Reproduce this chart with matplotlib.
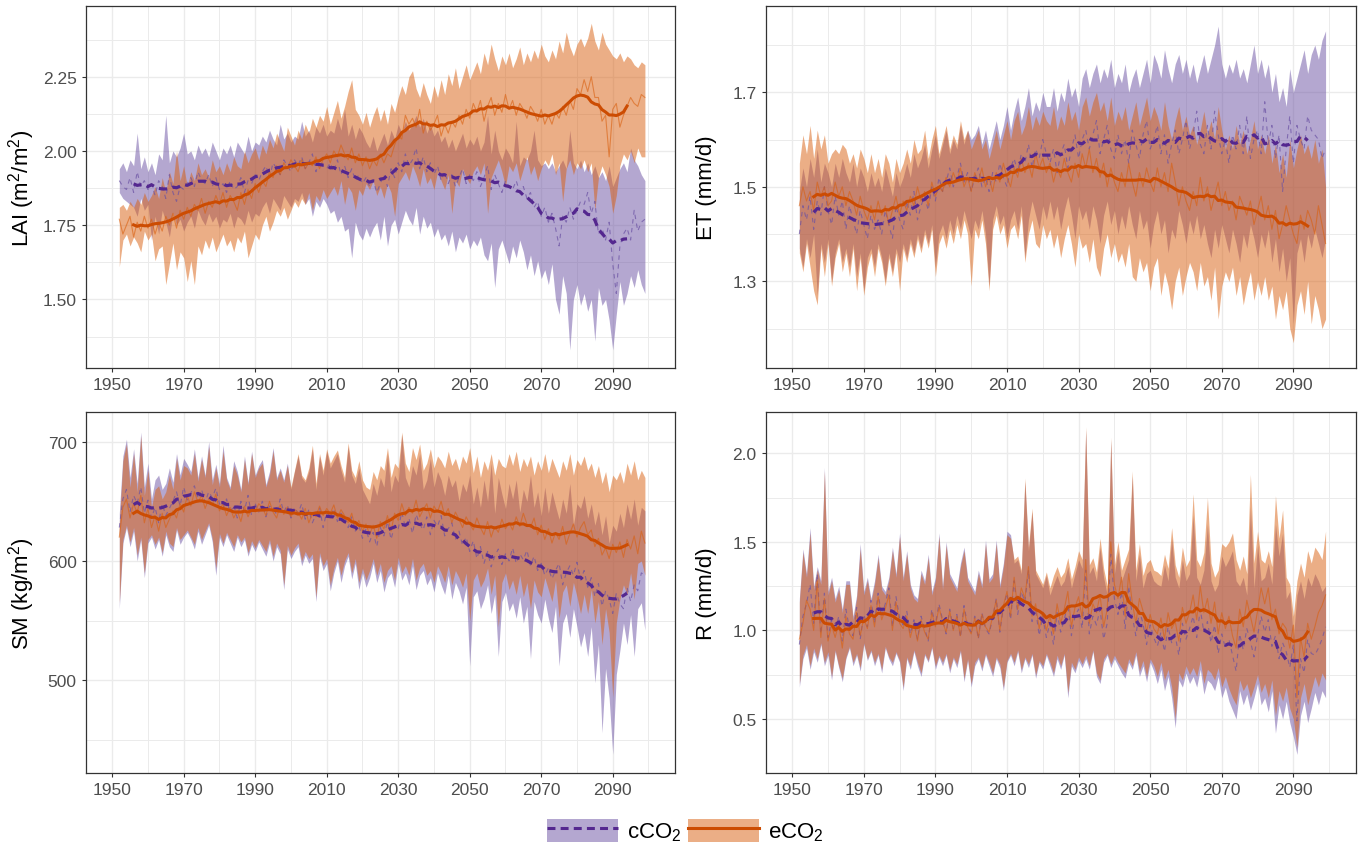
import numpy as np
import matplotlib
matplotlib.use('Agg')
import matplotlib.pyplot as plt
from matplotlib.patches import Patch
from matplotlib.lines import Line2D
from matplotlib.ticker import MultipleLocator

plt.rcParams['font.family'] = ['Liberation Sans', 'DejaVu Sans']
plt.rcParams['mathtext.fontset'] = 'custom'
plt.rcParams['mathtext.rm'] = 'Liberation Sans'
plt.rcParams['mathtext.it'] = 'Liberation Sans:italic'
plt.rcParams['mathtext.bf'] = 'Liberation Sans:bold'

years = np.arange(1952, 2100)

# ---- LAI (x100) ----
lai_c_mid = [190, 188, 187, 191, 186, 193, 188, 190, 187, 189,
             185, 190, 188, 184, 192, 186, 183, 188, 187, 189,
             191, 188, 193, 190, 189, 192, 188, 191, 187, 189,
             186, 190, 187, 188, 191, 186, 190, 189, 192, 190,
             193, 195, 191, 196, 194, 192, 197, 195, 193, 197,
             195, 198, 194, 196, 199, 193, 197, 195, 194, 196,
             193, 197, 192, 195, 191, 194, 190, 192, 189, 191,
             188, 190, 186, 189, 192, 188, 194, 191, 196, 193,
             199, 195, 197, 201, 194, 198, 193, 196, 192, 195,
             190, 193, 189, 192, 188, 191, 194, 189, 192, 190,
             193, 188, 191, 195, 187, 192, 189, 186, 190, 188,
             187, 190, 186, 188, 184, 186, 181, 183, 178, 181,
             176, 179, 174, 168, 178, 176, 181, 177, 180, 183,
             182, 186, 179, 183, 172, 174, 170, 176, 162, 152,
             168, 172, 174, 170, 180, 173, 176, 177]
lai_c_hi = [194, 196, 193, 197, 195, 206, 194, 198, 193, 196,
            192, 199, 197, 212, 196, 200, 198, 201, 206, 199,
            200, 197, 202, 199, 201, 198, 203, 200, 197, 201,
            199, 202, 198, 203, 201, 199, 205, 200, 203, 202,
            205, 203, 207, 204, 202, 209, 204, 206, 203, 205,
            204, 210, 205, 207, 203, 208, 206, 209, 205, 207,
            206, 211, 207, 214, 205, 209, 204, 208, 206, 203,
            201, 205, 200, 203, 206, 202, 207, 204, 209, 206,
            210, 207, 209, 212, 208, 211, 206, 209, 205, 207,
            203, 205, 201, 204, 200, 203, 206, 201, 204, 202,
            205, 200, 203, 212, 199, 207, 200, 197, 201, 199,
            196, 210, 195, 198, 197, 200, 207, 197, 195, 196,
            194, 196, 193, 195, 197, 194, 207, 196, 194, 197,
            193, 196, 192, 195, 191, 193, 190, 195, 188, 191,
            194, 196, 193, 201, 197, 195, 192, 190]
lai_c_lo = [186, 184, 183, 182, 181, 178, 184, 180, 182, 170,
            178, 172, 180, 176, 171, 179, 175, 177, 173, 176,
            178, 174, 180, 177, 175, 179, 176, 178, 174, 177,
            176, 179, 174, 178, 177, 175, 180, 176, 179, 178,
            181, 183, 179, 184, 182, 180, 185, 183, 181, 184,
            183, 186, 182, 184, 178, 183, 181, 184, 182, 179,
            180, 176, 178, 173, 174, 164, 176, 172, 170, 174,
            171, 174, 176, 170, 178, 168, 175, 177, 172, 176,
            180, 177, 175, 181, 172, 178, 174, 176, 171, 174,
            170, 172, 168, 173, 166, 171, 169, 172, 167, 170,
            168, 171, 165, 163, 169, 154, 167, 170, 166, 162,
            168, 164, 170, 166, 160, 165, 158, 163, 157, 160,
            155, 162, 150, 145, 158, 152, 133, 150, 155, 148,
            152, 146, 150, 136, 154, 148, 150, 143, 133, 145,
            156, 148, 152, 158, 154, 160, 155, 152]
lai_e_mid = [177, 172, 175, 178, 171, 176, 173, 178, 174, 177,
             172, 176, 173, 178, 175, 179, 174, 180, 177, 181,
             178, 182, 180, 184, 179, 183, 181, 185, 182, 186,
             181, 185, 183, 180, 186, 182, 187, 184, 189, 186,
             190, 188, 193, 191, 195, 192, 196, 194, 197, 195,
             193, 197, 194, 196, 195, 198, 194, 197, 199, 196,
             200, 198, 202, 199, 197, 201, 196, 199, 195, 198,
             194, 197, 195, 199, 196, 199, 198, 202, 205, 204,
             212, 209, 211, 208, 214, 206, 210, 207, 209, 212,
             205, 209, 206, 210, 208, 212, 209, 214, 211, 216,
             213, 217, 210, 215, 218, 212, 216, 213, 219, 214,
             217, 212, 216, 214, 211, 215, 213, 210, 214, 209,
             212, 209, 213, 211, 215, 212, 217, 214, 221, 219,
             224, 220, 225, 218, 218, 210, 212, 198, 214, 216,
             208, 212, 215, 218, 216, 215, 219, 218]
lai_e_hi = [181, 182, 180, 183, 181, 184, 182, 186, 183, 185,
            188, 184, 191, 186, 193, 189, 200, 190, 195, 188,
            193, 190, 196, 192, 194, 191, 197, 193, 195, 192,
            196, 193, 198, 195, 194, 200, 196, 199, 201, 197,
            202, 199, 204, 201, 206, 203, 200, 208, 205, 202,
            207, 204, 209, 206, 211, 208, 212, 210, 215, 209,
            213, 217, 211, 215, 220, 224, 214, 212, 209, 213,
            208, 212, 215, 210, 214, 209, 216, 213, 218, 222,
            219, 225, 227, 221, 218, 223, 219, 216, 222, 218,
            224, 219, 226, 222, 228, 221, 225, 229, 224, 227,
            230, 226, 233, 229, 236, 231, 227, 232, 229, 233,
            228, 231, 235, 229, 233, 230, 234, 231, 236, 232,
            230, 234, 231, 237, 233, 240, 235, 232, 236, 238,
            235, 238, 243, 237, 234, 240, 236, 234, 232, 231,
            233, 230, 232, 231, 229, 228, 230, 229]
lai_e_lo = [161, 170, 172, 168, 171, 169, 166, 173, 170, 172,
            163, 167, 168, 155, 162, 169, 160, 166, 164, 156,
            163, 155, 168, 165, 170, 167, 171, 166, 169, 172,
            168, 170, 166, 171, 169, 173, 164, 168, 172, 170,
            175, 178, 173, 176, 180, 178, 181, 177, 180, 183,
            181, 184, 182, 186, 180, 185, 183, 187, 184, 186,
            188, 185, 190, 182, 188, 186, 180, 187, 185, 189,
            187, 190, 185, 188, 184, 189, 186, 178, 189, 191,
            193, 190, 195, 192, 188, 194, 189, 191, 187, 193,
            190, 187, 192, 179, 190, 188, 194, 191, 189, 193,
            195, 192, 196, 179, 191, 194, 197, 193, 188, 195,
            193, 196, 190, 194, 198, 192, 195, 190, 194, 197,
            195, 199, 192, 196, 183, 194, 197, 192, 196, 194,
            197, 193, 196, 180, 191, 195, 192, 188, 179, 185,
            195, 199, 197, 200, 196, 201, 198, 198]

# ---- ET (x100) ----
et_c_mid = [140, 146, 143, 148, 141, 147, 144, 150, 145, 142,
            148, 144, 147, 141, 146, 143, 140, 145, 142, 139,
            144, 141, 143, 140, 145, 142, 139, 146, 143, 141,
            147, 144, 149, 143, 146, 148, 145, 150, 147, 152,
            149, 151, 154, 150, 152, 155, 151, 153, 149, 152,
            154, 150, 152, 149, 153, 151, 155, 152, 150, 154,
            156, 153, 157, 155, 159, 154, 158, 156, 160, 157,
            155, 158, 153, 157, 159, 154, 158, 161, 156, 160,
            162, 158, 161, 164, 157, 160, 163, 158, 156, 161,
            157, 160, 155, 162, 159, 156, 161, 164, 158, 160,
            163, 157, 161, 155, 159, 162, 157, 160, 164, 158,
            161, 166, 159, 157, 163, 158, 166, 161, 157, 160,
            155, 161, 158, 163, 157, 165, 156, 160, 162, 157,
            168, 159, 163, 156, 161, 149, 158, 165, 155, 163,
            160, 158, 165, 162, 161, 160, 156, 158]
et_c_hi = [149, 154, 150, 156, 152, 158, 151, 155, 153, 150,
           155, 152, 156, 153, 151, 155, 150, 154, 152, 149,
           153, 150, 152, 149, 154, 151, 148, 153, 150, 152,
           155, 152, 157, 154, 156, 159, 154, 158, 161, 156,
           159, 162, 157, 160, 158, 163, 159, 162, 160, 161,
           163, 159, 162, 158, 161, 164, 160, 163, 167, 162,
           166, 169, 164, 167, 171, 165, 168, 166, 170, 167,
           167, 171, 166, 170, 168, 173, 169, 171, 167, 173,
           175, 171, 174, 176, 172, 175, 173, 177, 171, 174,
           172, 176, 170, 173, 175, 171, 174, 177, 172, 178,
           176, 173, 179, 175, 172, 176, 178, 174, 177, 173,
           176, 172, 175, 178, 174, 177, 180, 184, 176, 173,
           176, 174, 177, 173, 175, 172, 176, 180, 174, 177,
           173, 176, 170, 174, 168, 171, 167, 175, 170, 173,
           176, 179, 174, 178, 180, 177, 181, 183]
et_c_lo = [137, 133, 139, 135, 140, 127, 138, 134, 139, 130,
           136, 139, 134, 137, 133, 138, 131, 136, 128, 135,
           137, 133, 138, 135, 130, 136, 132, 137, 134, 138,
           135, 139, 136, 140, 137, 141, 138, 142, 133, 140,
           142, 139, 143, 140, 144, 141, 145, 142, 139, 143,
           141, 145, 140, 129, 143, 146, 142, 144, 139, 143,
           145, 141, 146, 135, 143, 147, 144, 141, 146, 143,
           147, 143, 146, 141, 145, 148, 144, 139, 146, 143,
           145, 141, 146, 143, 138, 144, 147, 142, 145, 140,
           144, 141, 146, 142, 139, 145, 141, 143, 137, 142,
           145, 140, 143, 136, 141, 139, 145, 142, 138, 143,
           140, 144, 139, 142, 138, 135, 141, 137, 142, 139,
           136, 141, 138, 134, 140, 137, 142, 139, 135, 140,
           137, 141, 134, 139, 132, 137, 130, 135, 121, 136,
           139, 134, 140, 137, 141, 138, 135, 139]
et_e_mid = [146, 150, 147, 149, 145, 151, 148, 150, 146, 147,
            151, 148, 150, 146, 149, 147, 144, 148, 145, 143,
            146, 143, 147, 144, 146, 142, 145, 148, 144, 147,
            145, 148, 146, 150, 147, 149, 146, 151, 148, 150,
            149, 152, 150, 153, 151, 154, 150, 152, 149, 153,
            151, 154, 150, 152, 149, 153, 151, 155, 152, 150,
            154, 152, 156, 153, 155, 152, 157, 154, 156, 153,
            155, 151, 154, 152, 156, 153, 151, 155, 152, 157,
            154, 158, 153, 156, 152, 155, 150, 154, 151, 149,
            153, 150, 155, 151, 148, 153, 150, 154, 151, 149,
            154, 150, 153, 149, 155, 151, 146, 150, 147, 145,
            149, 146, 152, 147, 150, 145, 148, 151, 146, 149,
            145, 147, 143, 148, 146, 144, 147, 142, 145, 148,
            143, 146, 141, 145, 139, 142, 146, 143, 140, 138,
            144, 141, 145, 143, 140, 146, 142, 138]
et_e_hi = [155, 161, 157, 163, 156, 162, 158, 161, 155, 157,
           158, 157, 159, 158, 155, 157, 154, 158, 156, 153,
           157, 153, 156, 152, 157, 155, 151, 156, 153, 155,
           158, 155, 160, 157, 158, 162, 156, 160, 163, 157,
           160, 163, 158, 161, 159, 164, 160, 162, 158, 160,
           162, 158, 160, 156, 159, 162, 158, 161, 164, 160,
           164, 166, 161, 163, 167, 162, 165, 163, 166, 164,
           163, 167, 162, 165, 163, 168, 164, 166, 162, 167,
           169, 165, 168, 170, 166, 168, 164, 169, 163, 166,
           164, 167, 162, 165, 168, 163, 166, 169, 164, 167,
           165, 162, 168, 163, 160, 164, 167, 162, 165, 161,
           163, 159, 162, 166, 161, 164, 160, 167, 162, 158,
           161, 158, 163, 159, 162, 157, 160, 164, 158, 161,
           157, 161, 155, 159, 153, 157, 152, 160, 154, 158,
           161, 157, 159, 156, 160, 155, 158, 150]
et_e_lo = [136, 132, 138, 133, 128, 125, 137, 131, 138, 129,
           135, 138, 132, 136, 131, 137, 128, 135, 127, 133,
           136, 131, 137, 134, 129, 135, 131, 136, 128, 137,
           134, 138, 135, 139, 136, 140, 137, 141, 131, 138,
           140, 137, 141, 138, 142, 139, 143, 140, 129, 141,
           139, 143, 138, 128, 141, 144, 140, 142, 137, 141,
           142, 139, 144, 134, 140, 143, 138, 137, 142, 139,
           141, 137, 140, 135, 139, 142, 138, 133, 140, 137,
           138, 134, 139, 133, 131, 137, 140, 135, 138, 134,
           136, 133, 138, 131, 130, 135, 132, 134, 128, 133,
           135, 127, 132, 129, 124, 130, 133, 127, 131, 134,
           132, 128, 134, 129, 131, 126, 133, 122, 129, 132,
           130, 133, 127, 131, 125, 129, 132, 126, 130, 127,
           131, 126, 129, 122, 127, 124, 128, 120, 117, 125,
           128, 123, 130, 121, 127, 124, 120, 122]

# ---- SM (kg/m2) ----
sm_c_mid = [628, 652, 660, 641, 655, 648, 662, 640, 651, 636,
            645, 632, 648, 638, 644, 650, 658, 646, 662, 651,
            657, 663, 652, 660, 649, 658, 653, 661, 648, 644,
            652, 640, 647, 636, 650, 642, 655, 638, 648, 641,
            650, 637, 646, 644, 639, 652, 641, 647, 636, 645,
            640, 648, 635, 643, 632, 639, 645, 628, 641, 637,
            644, 633, 640, 636, 628, 637, 625, 630, 619, 627,
            616, 624, 612, 628, 621, 633, 618, 630, 627, 641,
            628, 636, 623, 639, 631, 626, 637, 622, 634, 629,
            638, 621, 627, 632, 618, 625, 613, 620, 608, 617,
            602, 612, 598, 608, 595, 604, 610, 597, 606, 600,
            611, 598, 606, 601, 609, 596, 604, 592, 598, 588,
            594, 585, 592, 598, 580, 590, 596, 588, 599, 584,
            592, 578, 586, 570, 581, 562, 575, 568, 556, 573,
            564, 560, 578, 566, 580, 575, 590, 588]
sm_c_hi = [640, 688, 702, 670, 694, 665, 708, 662, 682, 652,
           668, 672, 660, 665, 678, 666, 690, 672, 686, 681,
           675, 694, 670, 688, 672, 700, 668, 681, 665, 697,
           670, 662, 684, 675, 660, 688, 666, 692, 672, 680,
           685, 664, 675, 695, 670, 678, 668, 682, 660, 675,
           688, 670, 666, 675, 694, 660, 688, 672, 692, 678,
           684, 690, 676, 666, 696, 672, 665, 678, 660, 654,
           648, 665, 655, 670, 662, 690, 658, 672, 666, 706,
           670, 662, 680, 672, 690, 660, 668, 686, 662, 675,
           668, 655, 672, 662, 668, 650, 665, 658, 672, 648,
           662, 645, 668, 650, 682, 640, 670, 656, 644, 665,
           652, 668, 641, 660, 650, 672, 645, 658, 638, 662,
           640, 658, 646, 635, 652, 640, 665, 630, 648, 644,
           655, 636, 648, 630, 642, 622, 638, 615, 630, 625,
           640, 628, 648, 635, 652, 630, 645, 642]
sm_c_lo = [560, 615, 628, 612, 625, 600, 618, 586, 615, 620,
           610, 618, 604, 622, 612, 608, 626, 614, 620, 624,
           618, 610, 625, 614, 622, 630, 616, 588, 620, 612,
           622, 615, 608, 620, 612, 618, 604, 614, 608, 616,
           610, 604, 615, 600, 612, 606, 576, 610, 602, 608,
           612, 596, 605, 598, 602, 566, 604, 592, 598, 575,
           590, 600, 582, 596, 604, 585, 598, 576, 590, 578,
           586, 598, 582, 592, 574, 586, 590, 578, 598, 584,
           590, 580, 596, 576, 588, 592, 580, 586, 574, 590,
           580, 572, 588, 568, 582, 575, 564, 578, 512, 570,
           575, 560, 568, 580, 556, 572, 520, 566, 574, 558,
           565, 552, 570, 548, 562, 518, 566, 555, 548, 568,
           552, 540, 562, 512, 548, 556, 536, 560, 545, 528,
           540, 520, 545, 498, 530, 456, 510, 485, 438, 505,
           525, 548, 530, 555, 520, 560, 565, 542]
sm_e_mid = [620, 645, 652, 636, 648, 640, 655, 632, 644, 628,
            638, 625, 640, 628, 635, 642, 636, 648, 641, 655,
            646, 658, 649, 655, 644, 652, 647, 656, 642, 648,
            638, 645, 636, 642, 633, 646, 637, 644, 641, 648,
            645, 638, 650, 641, 636, 647, 639, 645, 637, 643,
            641, 635, 644, 632, 640, 637, 646, 638, 644, 640,
            647, 636, 643, 638, 632, 640, 628, 634, 625, 631,
            622, 630, 619, 633, 627, 638, 625, 640, 634, 648,
            638, 645, 640, 651, 637, 643, 648, 636, 646, 641,
            650, 638, 644, 632, 641, 635, 628, 637, 631, 626,
            636, 628, 622, 633, 620, 629, 624, 635, 627, 632,
            626, 637, 629, 640, 631, 628, 636, 622, 630, 618,
            627, 615, 624, 618, 629, 614, 623, 631, 620, 628,
            633, 622, 626, 612, 619, 605, 611, 602, 614, 607,
            616, 603, 618, 610, 621, 606, 625, 615]
sm_e_hi = [632, 684, 698, 662, 690, 658, 705, 655, 676, 645,
           660, 663, 652, 658, 672, 660, 686, 668, 680, 678,
           672, 690, 667, 685, 670, 696, 664, 678, 662, 692,
           668, 660, 680, 672, 658, 685, 664, 690, 670, 678,
           682, 662, 672, 692, 668, 676, 666, 680, 662, 676,
           690, 672, 668, 678, 697, 665, 690, 676, 694, 682,
           688, 693, 680, 670, 699, 676, 670, 684, 668, 662,
           660, 675, 668, 680, 676, 695, 670, 682, 678, 708,
           682, 675, 695, 685, 698, 676, 682, 694, 678, 688,
           684, 678, 692, 680, 686, 676, 688, 682, 695, 674,
           688, 670, 684, 676, 690, 672, 686, 680, 678, 690,
           680, 692, 675, 686, 679, 688, 672, 684, 676, 690,
           674, 686, 678, 670, 684, 676, 690, 672, 685, 680,
           688, 676, 682, 670, 680, 665, 675, 658, 672, 668,
           675, 665, 682, 672, 684, 668, 676, 670]
sm_e_lo = [565, 618, 630, 616, 628, 605, 620, 590, 618, 622,
           614, 620, 607, 625, 615, 612, 628, 618, 622, 626,
           620, 614, 628, 618, 625, 632, 619, 594, 623, 615,
           624, 618, 612, 622, 616, 620, 607, 617, 611, 618,
           613, 608, 618, 604, 615, 609, 580, 613, 605, 611,
           615, 600, 608, 602, 606, 570, 607, 596, 602, 580,
           594, 603, 588, 600, 607, 590, 602, 582, 594, 584,
           592, 602, 588, 598, 582, 592, 596, 584, 603, 590,
           596, 588, 602, 584, 594, 598, 588, 592, 582, 596,
           590, 582, 596, 580, 592, 586, 578, 590, 550, 584,
           590, 578, 584, 594, 572, 588, 545, 582, 590, 576,
           584, 572, 588, 570, 582, 560, 584, 574, 570, 586,
           576, 566, 584, 552, 574, 580, 562, 582, 570, 556,
           572, 556, 576, 548, 566, 530, 560, 540, 486, 548,
           568, 580, 572, 590, 568, 598, 600, 588]

# ---- R (x100) ----
r_c_mid = [92, 108, 115, 126, 104, 132, 98, 121, 96, 106,
           99, 108, 94, 112, 101, 97, 113, 95, 109, 102,
           117, 104, 121, 108, 115, 124, 102, 119, 107, 103,
           111, 98, 106, 95, 108, 101, 94, 112, 103, 115,
           106, 98, 112, 101, 109, 96, 114, 103, 99, 108,
           95, 110, 101, 98, 107, 118, 99, 113, 121, 106,
           128, 109, 122, 116, 134, 105, 112, 97, 108, 96,
           104, 92, 110, 99, 106, 115, 97, 108, 112, 101,
           134, 98, 108, 103, 112, 95, 104, 143, 118, 109,
           122, 101, 125, 108, 97, 111, 104, 92, 103, 96,
           91, 99, 88, 102, 93, 97, 86, 104, 95, 101,
           108, 96, 112, 99, 105, 93, 103, 87, 98, 90,
           95, 86, 77, 98, 89, 101, 94, 85, 97, 108,
           99, 106, 91, 97, 84, 93, 88, 79, 92, 49,
           84, 76, 95, 87, 86, 90, 95, 102]
r_c_hi = [118, 146, 132, 158, 125, 136, 128, 192, 122, 130,
          118, 125, 112, 128, 128, 108, 120, 149, 122, 130,
          118, 128, 143, 125, 122, 130, 147, 132, 155, 130,
          145, 126, 120, 118, 134, 128, 143, 122, 130, 155,
          125, 150, 132, 128, 124, 138, 147, 130, 126, 122,
          134, 126, 151, 129, 132, 151, 126, 138, 156, 154,
          138, 140, 132, 184, 145, 167, 132, 128, 124, 131,
          120, 126, 131, 125, 128, 136, 124, 132, 140, 135,
          213, 132, 136, 128, 147, 130, 120, 207, 132, 145,
          128, 134, 140, 187, 128, 143, 124, 132, 134, 128,
          126, 125, 137, 128, 152, 130, 124, 140, 128, 132,
          165, 130, 126, 134, 160, 128, 122, 126, 142, 136,
          140, 145, 128, 125, 130, 120, 170, 124, 148, 128,
          130, 138, 126, 160, 142, 155, 118, 122, 96, 120,
          128, 118, 130, 125, 132, 128, 122, 125]
r_c_lo = [68, 84, 90, 78, 88, 82, 92, 80, 86, 72,
          88, 79, 71, 84, 90, 80, 86, 77, 92, 83,
          88, 80, 86, 76, 90, 84, 80, 87, 82, 66,
          84, 78, 88, 80, 74, 86, 82, 90, 78, 85,
          80, 86, 76, 84, 79, 88, 71, 83, 68, 80,
          84, 77, 86, 80, 74, 84, 79, 66, 82, 86,
          80, 88, 76, 84, 79, 86, 73, 82, 78, 86,
          80, 74, 84, 78, 86, 62, 80, 76, 83, 79,
          84, 78, 88, 74, 70, 82, 86, 79, 84, 80,
          76, 73, 82, 78, 86, 74, 80, 71, 82, 77,
          70, 78, 66, 74, 62, 45, 72, 68, 76, 70,
          74, 68, 78, 64, 72, 70, 66, 74, 62, 68,
          60, 55, 50, 66, 58, 64, 55, 62, 70, 58,
          62, 54, 66, 42, 58, 50, 60, 48, 40, 30,
          52, 60, 48, 56, 65, 58, 66, 62]
r_e_mid = [95, 104, 117, 112, 100, 128, 96, 118, 94, 103,
           96, 104, 90, 108, 98, 95, 110, 97, 107, 101,
           114, 102, 119, 106, 112, 120, 100, 116, 104, 101,
           108, 96, 104, 94, 106, 99, 95, 110, 102, 113,
           105, 99, 111, 100, 108, 97, 112, 102, 98, 107,
           96, 109, 102, 99, 108, 117, 100, 114, 122, 108,
           130, 112, 124, 118, 136, 108, 115, 101, 110, 100,
           108, 98, 115, 104, 112, 122, 102, 113, 119, 107,
           140, 104, 115, 110, 120, 102, 112, 150, 126, 118,
           130, 108, 132, 116, 104, 118, 111, 99, 109, 101,
           98, 107, 95, 110, 101, 105, 94, 113, 104, 110,
           120, 106, 125, 110, 118, 104, 116, 98, 110, 101,
           108, 97, 90, 112, 102, 117, 108, 99, 111, 124,
           115, 124, 106, 112, 98, 104, 101, 90, 103, 62,
           96, 85, 104, 95, 102, 110, 114, 120]
r_e_hi = [116, 144, 130, 155, 123, 134, 126, 190, 120, 128,
          116, 123, 110, 126, 126, 106, 118, 146, 120, 128,
          116, 126, 141, 123, 120, 128, 145, 130, 153, 128,
          143, 124, 118, 116, 132, 126, 141, 120, 128, 153,
          123, 148, 130, 126, 122, 136, 145, 128, 124, 120,
          132, 124, 149, 127, 130, 149, 124, 136, 154, 152,
          140, 142, 134, 186, 147, 169, 134, 130, 126, 133,
          124, 131, 136, 130, 133, 141, 129, 136, 145, 140,
          215, 137, 141, 133, 152, 135, 125, 209, 137, 150,
          134, 140, 146, 190, 134, 149, 131, 138, 140, 134,
          133, 131, 143, 135, 158, 137, 130, 147, 136, 140,
          177, 140, 136, 144, 175, 138, 130, 134, 149, 147,
          150, 155, 140, 134, 142, 132, 188, 138, 156, 140,
          138, 145, 136, 176, 152, 168, 130, 126, 108, 128,
          138, 130, 145, 138, 147, 144, 140, 156]
r_e_lo = [70, 86, 92, 80, 90, 84, 93, 82, 88, 74,
          89, 80, 73, 85, 91, 82, 87, 79, 93, 84,
          89, 82, 87, 78, 91, 85, 82, 88, 83, 68,
          85, 80, 89, 82, 76, 87, 83, 91, 80, 86,
          82, 87, 78, 85, 81, 89, 73, 84, 70, 82,
          85, 79, 87, 82, 76, 85, 81, 68, 83, 87,
          82, 89, 78, 85, 81, 87, 75, 83, 80, 87,
          82, 76, 86, 80, 87, 65, 82, 78, 85, 81,
          86, 80, 89, 76, 72, 84, 87, 81, 86, 82,
          79, 76, 84, 80, 88, 77, 83, 74, 84, 80,
          74, 82, 72, 78, 68, 50, 76, 72, 80, 75,
          79, 74, 83, 70, 78, 76, 72, 79, 68, 74,
          67, 62, 58, 72, 66, 70, 62, 68, 75, 65,
          70, 62, 72, 52, 66, 60, 68, 56, 50, 34,
          62, 70, 58, 66, 74, 68, 76, 72]

C_FILL = '#6a51a3'
E_FILL = '#d95f0e'
C_LINE = '#54278f'
E_LINE = '#cc4c02'
GRID = '#ebebeb'


def roll10(v):
    # 10-year running mean, as drawn by the thick lines
    return np.convolve(v, np.ones(10) / 10, mode='valid')


def draw_panel(ax, c_lo, c_hi, c_mid, e_lo, e_hi, e_mid, scale, ylabel, ylim, major, minor):
    c_lo, c_hi, c_mid = [np.array(a) / scale for a in (c_lo, c_hi, c_mid)]
    e_lo, e_hi, e_mid = [np.array(a) / scale for a in (e_lo, e_hi, e_mid)]

    ax.fill_between(years, c_lo, c_hi, color=C_FILL, alpha=0.5, lw=0)
    ax.fill_between(years, e_lo, e_hi, color=E_FILL, alpha=0.5, lw=0)
    ax.plot(years, c_mid, color=C_FILL, lw=0.8, ls=(0, (4, 4)), alpha=0.7)
    ax.plot(years, e_mid, color=E_FILL, lw=0.8, alpha=0.6)
    yrs = years[4:-5]
    ax.plot(yrs, roll10(c_mid), color=C_LINE, lw=2.3, ls=(0, (2.6, 1.7)))
    ax.plot(yrs, roll10(e_mid), color=E_LINE, lw=2.2)

    ax.set_xlim(1942.6, 2107.5)
    ax.set_ylim(*ylim)
    ax.set_xticks(range(1950, 2091, 20))
    ax.xaxis.set_minor_locator(MultipleLocator(10))
    ax.set_yticks(major)
    ax.set_yticks(minor, minor=True)
    ax.set_axisbelow(True)
    ax.grid(which='major', color=GRID, lw=1.0)
    ax.grid(which='minor', color=GRID, lw=0.7)
    for s in ax.spines.values():
        s.set_color('#333333')
        s.set_linewidth(0.9)
    ax.tick_params(which='major', length=3, width=0.8, color='#333333',
                   labelcolor='#4d4d4d', labelsize=12.5)
    ax.tick_params(which='minor', length=0)
    ax.set_ylabel(ylabel, fontsize=16, color='black')
    ax.yaxis.set_label_coords(-0.082, 0.5)


fig = plt.figure(figsize=(13.63, 8.45), dpi=100)

W, H = 1363, 845
def rect(x0, y0, x1, y1):
    return [x0 / W, 1 - y1 / H, (x1 - x0) / W, (y1 - y0) / H]

ax1 = fig.add_axes(rect(85.7, 7.3, 675.3, 369))
ax2 = fig.add_axes(rect(765.7, 7.3, 1356, 369))
ax3 = fig.add_axes(rect(85.7, 413.3, 675.3, 774))
ax4 = fig.add_axes(rect(765.7, 413.3, 1356, 774))

draw_panel(ax1, lai_c_lo, lai_c_hi, lai_c_mid, lai_e_lo, lai_e_hi, lai_e_mid, 100,
           'LAI (m$^2$/m$^2$)', (1.269, 2.487),
           [1.50, 1.75, 2.00, 2.25], [1.375, 1.625, 1.875, 2.125, 2.375])
ax1.set_yticklabels(['1.50', '1.75', '2.00', '2.25'])
draw_panel(ax2, et_c_lo, et_c_hi, et_c_mid, et_e_lo, et_e_hi, et_e_mid, 100,
           'ET (mm/d)', (1.1165, 1.882),
           [1.3, 1.5, 1.7], [1.2, 1.4, 1.6, 1.8])
draw_panel(ax3, sm_c_lo, sm_c_hi, sm_c_mid, sm_e_lo, sm_e_hi, sm_e_mid, 1,
           'SM (kg/m$^2$)', (422.3, 724.6),
           [500, 600, 700], [450, 550, 650])
draw_panel(ax4, r_c_lo, r_c_hi, r_c_mid, r_e_lo, r_e_hi, r_e_mid, 100,
           'R (mm/d)', (0.195, 2.231),
           [0.5, 1.0, 1.5, 2.0], [0.75, 1.25, 1.75])

h_c = (Patch(facecolor=C_FILL, alpha=0.5, lw=0),
       Line2D([], [], color=C_LINE, lw=2.2, ls=(0, (2.6, 1.7))))
h_e = (Patch(facecolor=E_FILL, alpha=0.5, lw=0),
       Line2D([], [], color=E_LINE, lw=2.2))
fig.legend([h_c, h_e], ['cCO$_2$', 'eCO$_2$'], loc='center',
           bbox_to_anchor=(0.503, 1 - 832 / H), ncol=2, frameon=False,
           fontsize=16, handlelength=3.2, handleheight=1.2,
           handletextpad=0.4, columnspacing=0.3)

fig.savefig('out.png', dpi=100)
